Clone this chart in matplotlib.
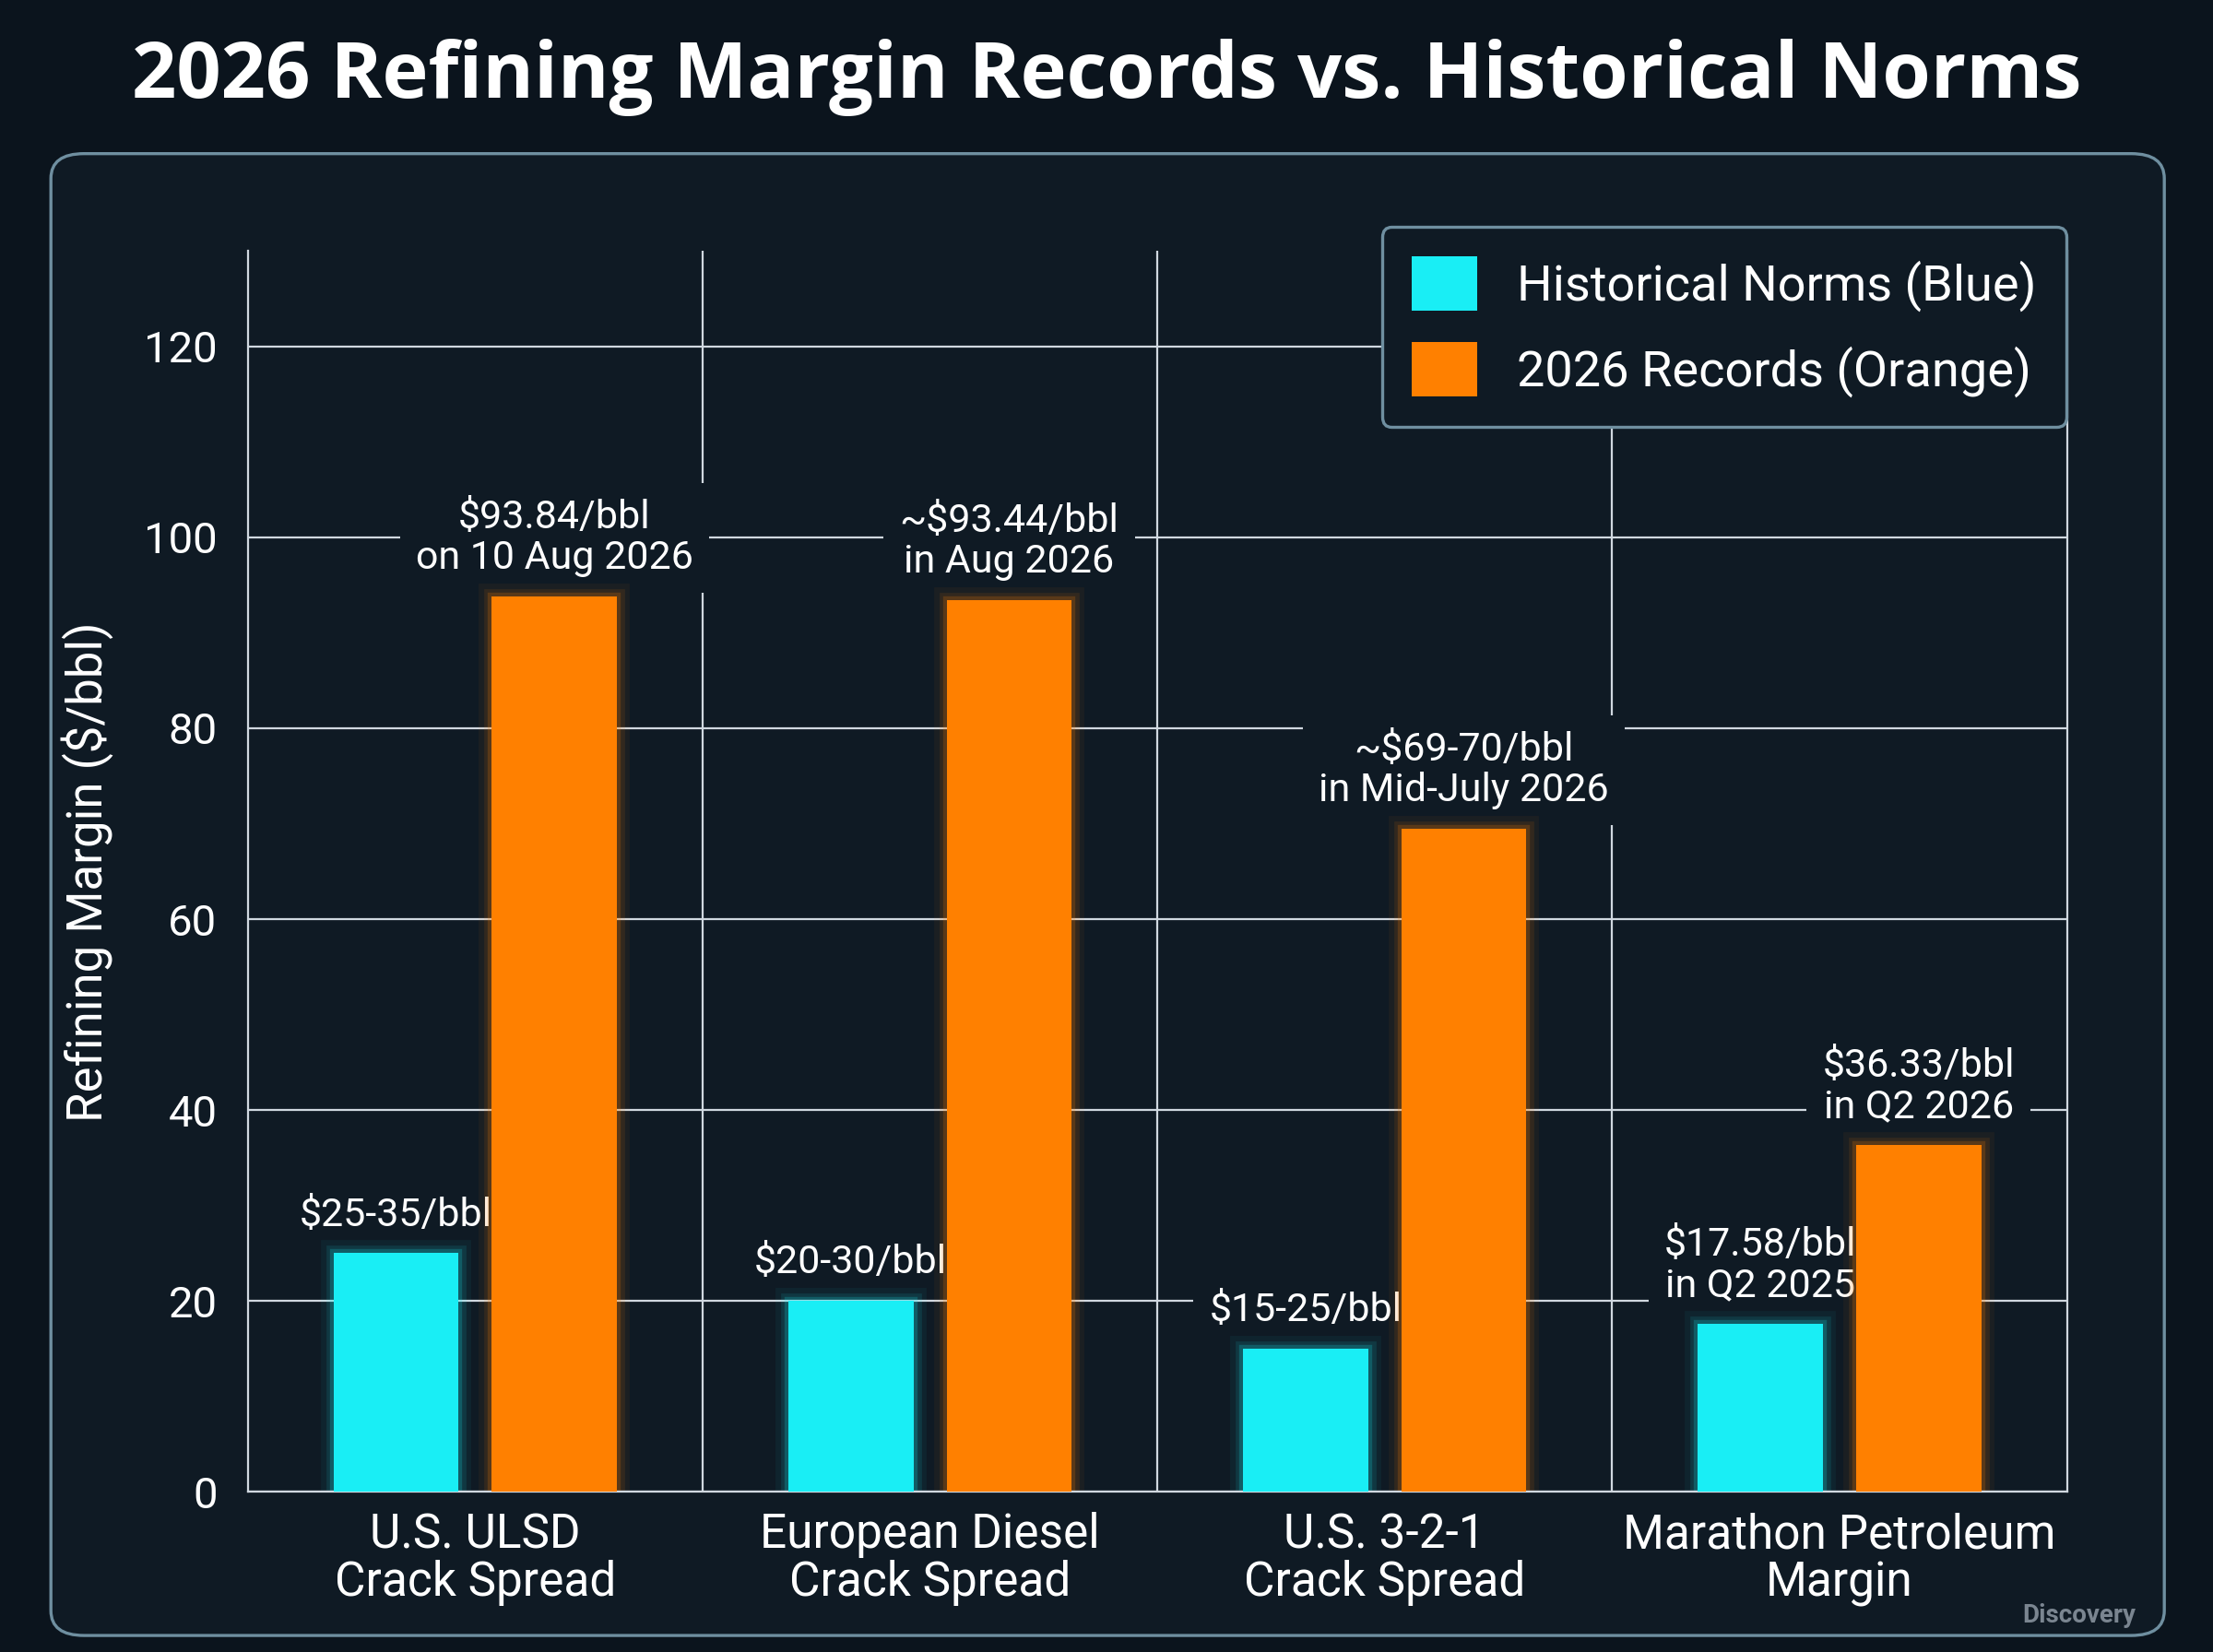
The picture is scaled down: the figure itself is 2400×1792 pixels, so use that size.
import matplotlib
matplotlib.use("Agg")
import matplotlib.pyplot as plt
from matplotlib.patches import FancyBboxPatch, Patch
import numpy as np

plt.rcParams['font.family'] = ['Roboto', 'DejaVu Sans']

categories = ["U.S. ULSD\nCrack Spread", "European Diesel\nCrack Spread",
              "U.S. 3-2-1\nCrack Spread", "Marathon Petroleum\nMargin"]
historical = [25, 20, 15, 17.58]
records = [93.84, 93.44, 69.5, 36.33]
hist_labels = ["$25-35/bbl", "$20-30/bbl", "$15-25/bbl", "$17.58/bbl\nin Q2 2025"]
rec_labels = ["$93.84/bbl\non 10 Aug 2026", "~$93.44/bbl\nin Aug 2026",
              "~$69-70/bbl\nin Mid-July 2026", "$36.33/bbl\nin Q2 2026"]

bg = "#0b141d"
panel = "#0f1a24"
blue = "#19eef5"
orange = "#ff8000"

fig = plt.figure(figsize=(12, 8.96), dpi=200, facecolor=bg)
fig.patches.append(FancyBboxPatch((0.023, 0.01), 0.955, 0.897, boxstyle="round,pad=0,rounding_size=0.015",
                                  transform=fig.transFigure, facecolor=panel, edgecolor="#6f8fa0",
                                  linewidth=1.2, zorder=-5))
fig.text(0.5, 0.953, "2026 Refining Margin Records vs. Historical Norms", ha="center", va="center",
         color="white", fontsize=30.5, fontweight="bold", family=["Open Sans", "DejaVu Sans"])

ax = fig.add_axes([0.112, 0.097, 0.822, 0.751])
ax.set_facecolor("none")
ax.set_axisbelow(True)
x = np.arange(len(categories))
w = 0.275
off = 0.174

for i in range(len(x)):
    for color, xc, v in [(blue, x[i] - off, historical[i]), (orange, x[i] + off, records[i])]:
        for lw, a in [(10, 0.05), (6, 0.1), (3, 0.2)]:
            ax.bar(xc, v, w, color="none", edgecolor=color, linewidth=lw, alpha=a, zorder=2)
ax.bar(x - off, historical, w, color=blue, zorder=3)
ax.bar(x + off, records, w, color=orange, zorder=3)

box = dict(boxstyle="square,pad=0.4", facecolor=panel, edgecolor="none")
for i in range(len(x)):
    ax.text(x[i] - off, historical[i] + 2.0, hist_labels[i], ha="center", va="bottom", color="white",
            fontsize=15.5, linespacing=1.1, bbox=box, zorder=1.8)
    ax.text(x[i] + off, records[i] + 2.0, rec_labels[i], ha="center", va="bottom", color="white",
            fontsize=15.5, linespacing=1.1, bbox=box, zorder=1.8)

ax.set_xlim(-0.5, 3.5)
ax.set_ylim(0, 130)
ax.set_yticks(range(0, 121, 20))
ax.set_xticks(x)
ax.set_xticklabels(categories, color="white", fontsize=18.5, linespacing=1.05)
ax.tick_params(axis="y", colors="white", labelsize=17, length=0, pad=12)
ax.tick_params(axis="x", length=0, pad=8)
ax.set_ylabel("Refining Margin ($/bbl)", color="white", fontsize=19, labelpad=12)
ax.grid(axis="y", color="#d0d8e0", linewidth=0.8)
for b in [0.5, 1.5, 2.5]:
    ax.axvline(b, color="#d0d8e0", linewidth=0.8, zorder=0.5)
ax.spines["top"].set_visible(False)
for s in ["left", "bottom", "right"]:
    ax.spines[s].set_color("#d0d8e0")

handles = [Patch(facecolor=blue, label="Historical Norms (Blue)"),
           Patch(facecolor=orange, label="2026 Records (Orange)")]
leg = fig.legend(handles=handles, loc="upper right", bbox_to_anchor=(0.945, 0.878), fontsize=19.5,
                 facecolor=panel, edgecolor="#6f8fa0", labelcolor="white", framealpha=1,
                 handlelength=1.3, handleheight=1.3, borderpad=0.6, labelspacing=0.6)
leg.get_frame().set_linewidth(1.2)

fig.text(0.965, 0.022, "Discovery", ha="right", va="center", color="#7a8590", fontsize=10, fontweight="bold")

fig.savefig("out.png", dpi=200, facecolor=bg)
